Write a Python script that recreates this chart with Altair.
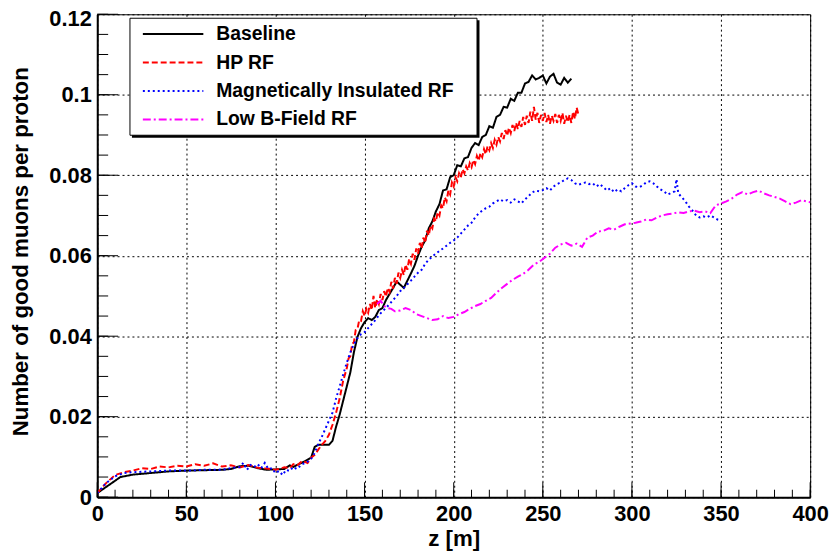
import altair as alt
import pandas as pd

# ---------------- data ----------------
series_names = ["Baseline", "HP RF", "Magnetically Insulated RF", "Low B-Field RF"]
series_colors = ["#000000", "#ff0000", "#0000ff", "#ff00ff"]

baseline_z = [0, 13, 20, 30, 40, 50, 60, 70, 75, 80, 85, 90, 95, 100, 105, 108, 110, 113, 116,
              120, 122, 124, 127, 130, 132, 134, 136, 138, 140, 142, 144, 146, 148, 150, 152, 154,
              156, 158, 160, 162, 164, 166, 168, 170, 172, 174, 176, 178, 180, 182, 184, 186, 188,
              190, 192, 194, 196, 198, 200, 202, 204, 206, 208, 210, 212, 214, 216, 218, 220, 222,
              224, 226, 228, 230, 232, 234, 236, 238, 240, 242, 244, 246, 248, 250, 252, 254, 256,
              258, 260, 262, 264, 266]
baseline_n = [0.0010, 0.0050, 0.0056, 0.0060, 0.0064, 0.0066, 0.0067, 0.0068, 0.0070, 0.0077,
              0.0078, 0.0072, 0.0068, 0.0069, 0.0070, 0.0079, 0.0075, 0.0082, 0.0088,
              0.0098, 0.0125, 0.0130, 0.0130, 0.0130, 0.0140, 0.0175, 0.0205, 0.0240, 0.0275,
              0.0310, 0.0360, 0.0398, 0.0420, 0.0435, 0.0445, 0.0440, 0.0448, 0.0465, 0.0470,
              0.0490, 0.0505, 0.0520, 0.0536, 0.0528, 0.0520, 0.0538, 0.0556, 0.0575, 0.0600,
              0.0622, 0.0638, 0.0668, 0.0685, 0.0710, 0.0728, 0.0762, 0.0765, 0.0795, 0.0800,
              0.0825, 0.0822, 0.0842, 0.0845, 0.0868, 0.0880, 0.0875, 0.0895, 0.0900, 0.0922,
              0.0918, 0.0945, 0.0950, 0.0970, 0.0968, 0.0990, 0.0985, 0.1005, 0.1005, 0.1028,
              0.1032, 0.1048, 0.1038, 0.1042, 0.1048, 0.1028, 0.1045, 0.1052, 0.1030, 0.1025,
              0.1042, 0.1030, 0.1040]

hprf_z = [0, 5, 10, 15, 20, 25, 30, 35, 40, 45, 50, 55, 60, 65, 70, 75, 80, 85, 90, 95, 100,
          105, 108, 110, 112, 115, 118, 120, 122, 124, 126, 128, 130, 132, 134, 136, 138,
          140, 141, 142, 143, 144, 145, 146, 147, 148, 149, 150, 151, 152, 153, 154, 155, 156,
          157, 158, 159, 160, 161, 162, 163, 164, 165, 166, 167, 168, 169, 170, 171, 172, 173,
          174, 175, 176, 177, 178, 179, 180, 181, 182, 183, 184, 185, 186, 187, 188, 189, 190,
          191, 192, 193, 194, 195, 196, 197, 198, 199, 200, 201, 202, 203, 204, 205, 206, 207,
          208, 209, 210, 211, 212, 213, 214, 215, 216, 217, 218, 219, 220, 221, 222, 223, 224,
          225, 226, 227, 228, 229, 230, 231, 232, 233, 234, 235, 236, 237, 238, 239, 240, 241,
          242, 243, 244, 245, 246, 247, 248, 249, 250, 251, 252, 253, 254, 255, 256, 257, 258,
          259, 260, 261, 262, 263, 264, 265, 266, 267, 268, 269, 270]
hprf_n = [0.0010, 0.0035, 0.0055, 0.0062, 0.0066, 0.0072, 0.0070, 0.0076, 0.0074, 0.0078,
          0.0076, 0.0082, 0.0078, 0.0084, 0.0076, 0.0079, 0.0074, 0.0080, 0.0073, 0.0071,
          0.0068, 0.0074, 0.0072, 0.0082, 0.0078, 0.0090, 0.0085, 0.0098, 0.0105, 0.0118,
          0.0130, 0.0140, 0.0155, 0.0180, 0.0210, 0.0245, 0.0290,
          0.0320, 0.0345, 0.0350, 0.0380, 0.0385, 0.0415, 0.0418, 0.0440, 0.0438, 0.0462,
          0.0450, 0.0468, 0.0458, 0.0480, 0.0465, 0.0500, 0.0470, 0.0492, 0.0480, 0.0505,
          0.0490, 0.0512, 0.0498, 0.0520, 0.0510, 0.0535, 0.0518, 0.0545, 0.0530, 0.0558,
          0.0545, 0.0565, 0.0552, 0.0578, 0.0565, 0.0592, 0.0580, 0.0605, 0.0590, 0.0618,
          0.0605, 0.0632, 0.0618, 0.0645, 0.0632, 0.0662, 0.0650, 0.0675, 0.0668, 0.0692,
          0.0685, 0.0708, 0.0700, 0.0725, 0.0718, 0.0745, 0.0735, 0.0762, 0.0752, 0.0782,
          0.0772, 0.0795, 0.0785, 0.0805, 0.0795, 0.0815, 0.0805, 0.0822, 0.0812, 0.0830,
          0.0820, 0.0838, 0.0828, 0.0848, 0.0836, 0.0855, 0.0845, 0.0865, 0.0852, 0.0872,
          0.0862, 0.0880, 0.0868, 0.0888, 0.0876, 0.0895, 0.0884, 0.0905, 0.0890, 0.0912,
          0.0898, 0.0918, 0.0905, 0.0925, 0.0910, 0.0930, 0.0915, 0.0935, 0.0920, 0.0945,
          0.0925, 0.0948, 0.0930, 0.0958, 0.0935, 0.0970, 0.0938, 0.0955, 0.0930, 0.0950,
          0.0935, 0.0955, 0.0932, 0.0950, 0.0928, 0.0948, 0.0935, 0.0952, 0.0930, 0.0950,
          0.0935, 0.0955, 0.0928, 0.0948, 0.0932, 0.0950, 0.0930, 0.0958, 0.0940, 0.0968,
          0.0950]

mirf_z = [0, 5, 10, 15, 20, 30, 40, 50, 60, 70, 75, 80, 82, 84, 86, 88, 90, 92, 94, 96, 98,
          100, 102, 104, 106, 108, 110, 112, 115, 118, 120, 122, 124, 126, 128, 130, 132, 134,
          136, 138, 140, 142, 144, 146, 148, 150, 152, 154, 156, 158, 160, 162, 164, 166, 168,
          170, 172, 174, 176, 178, 180, 182, 184, 186, 188, 190, 192, 194, 196, 198, 200, 202,
          204, 206, 208, 210, 212, 214, 216, 218, 220, 222, 224, 226, 228, 230, 232, 234, 236,
          238, 240, 242, 244, 246, 248, 250, 252, 254, 256, 258, 260, 262, 264, 266, 268, 270,
          272, 274, 276, 278, 280, 282, 284, 286, 288, 290, 292, 294, 296, 298, 300, 302, 304,
          306, 308, 310, 312, 314, 316, 318, 320, 322, 324, 325, 326, 328, 330, 332, 334, 336,
          338, 340, 342, 344, 346, 348, 350]
mirf_n = [0.0010, 0.0035, 0.0052, 0.0060, 0.0062, 0.0064, 0.0066, 0.0066, 0.0068, 0.0068,
          0.0072, 0.0075, 0.0085, 0.0068, 0.0080, 0.0075, 0.0082, 0.0072, 0.0085, 0.0070,
          0.0072, 0.0060, 0.0065, 0.0055, 0.0068, 0.0065, 0.0075, 0.0070, 0.0082, 0.0088,
          0.0095, 0.0110, 0.0132, 0.0150, 0.0170, 0.0190, 0.0210, 0.0245, 0.0275, 0.0305,
          0.0334, 0.0360, 0.0380, 0.0395, 0.0405, 0.0410, 0.0420, 0.0430, 0.0440, 0.0452,
          0.0462, 0.0470, 0.0480, 0.0490, 0.0500, 0.0512, 0.0520, 0.0529, 0.0538, 0.0548,
          0.0558, 0.0565, 0.0580, 0.0590, 0.0598, 0.0605, 0.0612, 0.0618, 0.0625, 0.0632,
          0.0638, 0.0645, 0.0655, 0.0665, 0.0675, 0.0682, 0.0695, 0.0705, 0.0712, 0.0718,
          0.0722, 0.0730, 0.0735, 0.0740, 0.0735, 0.0738, 0.0732, 0.0740, 0.0735, 0.0730,
          0.0740, 0.0748, 0.0757, 0.0762, 0.0760, 0.0763, 0.0768, 0.0762, 0.0772, 0.0778,
          0.0782, 0.0788, 0.0792, 0.0788, 0.0780, 0.0776, 0.0780, 0.0782, 0.0778, 0.0780,
          0.0772, 0.0778, 0.0770, 0.0762, 0.0768, 0.0758, 0.0765, 0.0760, 0.0768, 0.0775,
          0.0780, 0.0772, 0.0770, 0.0775, 0.0782, 0.0785, 0.0780, 0.0772, 0.0765, 0.0760,
          0.0752, 0.0756, 0.0760, 0.0790, 0.0755, 0.0745, 0.0735, 0.0722, 0.0712, 0.0700,
          0.0695, 0.0698, 0.0695, 0.0700, 0.0695, 0.0690, 0.0688]

lowb_z = [157, 159, 161, 163, 165, 167, 170, 173, 176, 179, 182, 185, 188, 191, 194, 197, 200,
          203, 206, 209, 212, 215, 218, 221, 224, 227, 230, 233, 236, 239, 242, 245, 248, 251,
          254, 257, 260, 263, 266, 269, 272, 275, 278, 281, 284, 287, 290, 293, 296, 299, 302,
          305, 308, 311, 314, 317, 320, 323, 326, 329, 332, 335, 338, 341, 344, 347, 350, 353,
          356, 359, 362, 365, 368, 371, 374, 377, 380, 383, 386, 389, 392, 395, 398, 400]
lowb_n = [0.0480, 0.0488, 0.0475, 0.0470, 0.0468, 0.0462, 0.0464, 0.0470, 0.0465, 0.0455,
          0.0450, 0.0445, 0.0440, 0.0442, 0.0450, 0.0445, 0.0448, 0.0455, 0.0460, 0.0468,
          0.0475, 0.0480, 0.0488, 0.0495, 0.0508, 0.0520, 0.0530, 0.0540, 0.0548, 0.0555,
          0.0565, 0.0578, 0.0585, 0.0595, 0.0605, 0.0620, 0.0628, 0.0632, 0.0625, 0.0630,
          0.0622, 0.0645, 0.0650, 0.0660, 0.0662, 0.0668, 0.0665, 0.0672, 0.0678, 0.0680,
          0.0682, 0.0685, 0.0690, 0.0688, 0.0695, 0.0700, 0.0703, 0.0705, 0.0708, 0.0706,
          0.0710, 0.0712, 0.0708, 0.0710, 0.0706, 0.0725, 0.0730, 0.0735, 0.0742, 0.0752,
          0.0758, 0.0752, 0.0758, 0.0762, 0.0755, 0.0750, 0.0746, 0.0742, 0.0735, 0.0728,
          0.0732, 0.0738, 0.0735, 0.0733]

x_major_ticks = [0, 50, 100, 150, 200, 250, 300, 350, 400]
y_major_ticks = [0, 0.02, 0.04, 0.06, 0.08, 0.10, 0.12]
x_minor_ticks = list(range(0, 401, 10))
y_minor_ticks = [round(i * 0.005, 3) for i in range(25)]

# ---------------- build table ----------------
rows = []
for name, zs, ns in zip(series_names,
                        [baseline_z, hprf_z, mirf_z, lowb_z],
                        [baseline_n, hprf_n, mirf_n, lowb_n]):
    for z, n in zip(zs, ns):
        rows.append({"series": name, "z": z, "n": n})
df = pd.DataFrame(rows)

FONT = "Liberation Sans"
W, H = 719, 487

xs = alt.Scale(domain=[0, 400], nice=False, zero=False)
ys = alt.Scale(domain=[0, 0.12], nice=False, zero=False)

axis_style = dict(
    labelFont=FONT, labelFontSize=22, labelFontWeight="bold", labelColor="black",
    ticks=False, tickSize=0, domain=True, domainColor="black", domainWidth=2,
    grid=True, gridColor="black", gridDash=[2, 3], gridWidth=1, gridOpacity=1,
    titleFont=FONT, titleFontSize=22.5, titleFontWeight="bold", titleColor="black",
    labelFlush=False, labelOverlap=False,
)

x_axis = alt.Axis(values=x_major_ticks, title="z [m]", labelPadding=7,
                  titleX=W / 2, titleY=48.5, titleAlign="center",
                  titleBaseline="alphabetic", **axis_style)
y_axis = alt.Axis(values=y_major_ticks, format=".2~f",
                  title="Number of good muons per proton", labelPadding=6,
                  labelOffset={"condition": {"test": "datum.value > 0.119", "value": 4}, "value": 0},
                  titleAngle=270, titleX=-70, titleY=239, titleAlign="center",
                  titleBaseline="alphabetic", **axis_style)

leg = alt.Legend(
    title=None, orient="none", legendX=33, legendY=4, direction="vertical",
    symbolType="stroke", symbolSize=3721, symbolStrokeWidth=2, symbolOffset=6,
    labelFont=FONT, labelFontSize=19.5, labelFontWeight="bold", labelColor="black",
    labelOffset=12, padding=6, clipHeight=20, rowPadding=8.7, labelLimit=400,
)

lines = alt.Chart(df).mark_line(strokeWidth=2, clip=True).encode(
    x=alt.X("z:Q", scale=xs, axis=x_axis, title="z [m]"),
    y=alt.Y("n:Q", scale=ys, axis=y_axis, title="Number of good muons per proton"),
    color=alt.Color("series:N", scale=alt.Scale(domain=series_names, range=series_colors),
                    legend=leg),
    strokeDash=alt.StrokeDash("series:N",
                              scale=alt.Scale(domain=series_names,
                                              range=[[1, 0], [6, 3], [2, 3], [8, 3, 2, 3]]),
                              legend=leg),
)

x_minor = alt.Chart(pd.DataFrame({"t": x_minor_ticks})).mark_rule(color="black", strokeWidth=1).encode(
    x=alt.X("t:Q", scale=xs, axis=x_axis, title="z [m]"), y=alt.value(H), y2=alt.value(H - 7.5))
x_major = alt.Chart(pd.DataFrame({"t": x_major_ticks})).mark_rule(color="black", strokeWidth=1).encode(
    x=alt.X("t:Q", scale=xs, axis=x_axis, title="z [m]"), y=alt.value(H), y2=alt.value(H - 15))
y_minor = alt.Chart(pd.DataFrame({"t": y_minor_ticks})).mark_rule(color="black", strokeWidth=1).encode(
    y=alt.Y("t:Q", scale=ys, axis=y_axis, title="Number of good muons per proton"),
    x=alt.value(0), x2=alt.value(11))
y_major = alt.Chart(pd.DataFrame({"t": y_major_ticks})).mark_rule(color="black", strokeWidth=1).encode(
    y=alt.Y("t:Q", scale=ys, axis=y_axis, title="Number of good muons per proton"),
    x=alt.value(0), x2=alt.value(21))

box_data = pd.DataFrame({"k": [0]})
shadow = alt.Chart(box_data).mark_rect(fill="black").encode(
    x=alt.value(35), x2=alt.value(385.5), y=alt.value(6), y2=alt.value(124.5))
box = alt.Chart(box_data).mark_rect(fill="white", stroke="black", strokeWidth=1).encode(
    x=alt.value(33), x2=alt.value(383), y=alt.value(4), y2=alt.value(122))

chart = alt.layer(lines, x_minor, x_major, y_minor, y_major, shadow, box).properties(
    width=W, height=H,
    autosize=alt.AutoSizeParams(type="none"),
    padding={"left": 90, "top": 4, "right": 20, "bottom": 55},
    background="white",
).configure_view(stroke="black", strokeWidth=1)

chart.save("out.html", embed_options={"renderer": "svg", "actions": False})
